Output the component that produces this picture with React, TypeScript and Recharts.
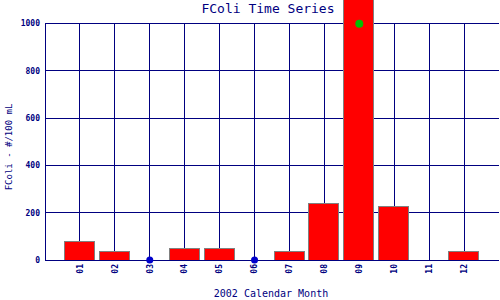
import { ComposedChart, Bar, Line, XAxis, YAxis, ReferenceLine } from 'recharts';

const months = ['01', '02', '03', '04', '05', '06', '07', '08', '09', '10', '11', '12'];
// monthly FColi bars (null = no bar drawn); Sep runs off the top of the chart
const fcoli = [80, 38, null, 50, 50, null, 38, 240, 1200, 227, 0, 38];
// blue markers sitting on the axis
const belowDetect = [null, null, 0, null, null, 0, null, null, null, null, null, null];
// green marker
const markerValue = [null, null, null, null, null, null, null, null, 1000, null, null, null];
const yTicks = [0, 200, 400, 600, 800, 1000];

const NAVY = '#000080';
const MONO = '"DejaVu Sans Mono", "Liberation Mono", monospace';

const data = months.map((m, i) => ({
  pos: i + 1,
  month: m,
  fcoli: fcoli[i],
  low: belowDetect[i],
  marker: markerValue[i],
}));

const BarShape = (props: any) => {
  const { x, y, width, height, payload } = props;
  if (payload.fcoli == null) return null;
  return (
    <path
      d={`M${x},${y}h${width}v${height}h${-width}Z`}
      fill="#ff0000"
      stroke="#808080"
      strokeWidth={1}
      shapeRendering="crispEdges"
    />
  );
};

const XTick = ({ x, y, payload }: any) => (
  <text
    x={x}
    y={y}
    transform={`rotate(-90 ${x} ${y})`}
    textAnchor="end"
    dy="0.35em"
    fill={NAVY}
    fontSize={8}
    fontWeight="bold"
    fontFamily={MONO}
  >
    {months[payload.value - 1]}
  </text>
);

const YTick = ({ x, y, payload }: any) => (
  <text x={x} y={y} textAnchor="end" dy="0.35em" fill={NAVY} fontSize={8} fontWeight="bold" fontFamily={MONO}>
    {payload.value}
  </text>
);

export default function App() {
  return (
    <div style={{ position: 'relative', width: 500, height: 300, background: '#fff' }}>
      <style>{'body{margin:0}'}</style>
      <ComposedChart width={500} height={300} data={data} margin={{ top: 0, right: 1, left: 0, bottom: 0 }}>
        {/* grid: horizontal lines at y ticks, vertical lines at each month + left edge */}
        {yTicks.map(v => (
          <ReferenceLine
            key={`h${v}`}
            segment={[{ x: 0, y: v }, { x: 13, y: v }]}
            stroke={NAVY}
            shapeRendering="crispEdges"
            zIndex={-100}
          />
        ))}
        {[0, ...data.map(d => d.pos)].map(p => (
          <ReferenceLine
            key={`v${p}`}
            segment={[{ x: p, y: 0 }, { x: p, y: 1000 }]}
            stroke={NAVY}
            shapeRendering="crispEdges"
            zIndex={-100}
          />
        ))}
        <XAxis
          dataKey="pos"
          type="number"
          domain={[0, 13]}
          ticks={data.map(d => d.pos)}
          height={40}
          tickSize={0}
          tickMargin={4}
          tickLine={false}
          axisLine={false}
          tick={<XTick />}
          interval={0}
        />
        <YAxis
          type="number"
          domain={[0, 1100]}
          allowDataOverflow
          ticks={yTicks}
          width={45}
          tickSize={0}
          tickMargin={5}
          tickLine={false}
          axisLine={false}
          tick={<YTick />}
          interval={0}
        />
        {/* same scale, no clipping, for the markers */}
        <YAxis yAxisId="pts" type="number" domain={[0, 1100]} hide />
        <Bar dataKey="fcoli" barSize={30} shape={<BarShape />} isAnimationActive={false} />
        <Line
          yAxisId="pts"
          dataKey="low"
          stroke="none"
          dot={{ r: 3.5, fill: '#0000cc', stroke: 'none' }}
          activeDot={false}
          isAnimationActive={false}
        />
        <Line
          yAxisId="pts"
          dataKey="marker"
          stroke="none"
          dot={{ r: 4, fill: '#00c000', stroke: 'none' }}
          activeDot={false}
          isAnimationActive={false}
        />
      </ComposedChart>
      <svg width={500} height={300} style={{ position: 'absolute', left: 0, top: 0, pointerEvents: 'none' }}>
        <text x={268} y={13} textAnchor="middle" fill={NAVY} fontSize={13} fontFamily={MONO}>
          FColi Time Series
        </text>
        <text x={271} y={297} textAnchor="middle" fill={NAVY} fontSize={10} fontFamily={MONO}>
          2002 Calendar Month
        </text>
        <text
          x={12}
          y={147}
          transform="rotate(-90 12 147)"
          textAnchor="middle"
          fill={NAVY}
          fontSize={9}
          fontFamily={MONO}
        >
          FColi - #/100 mL
        </text>
      </svg>
    </div>
  );
}
